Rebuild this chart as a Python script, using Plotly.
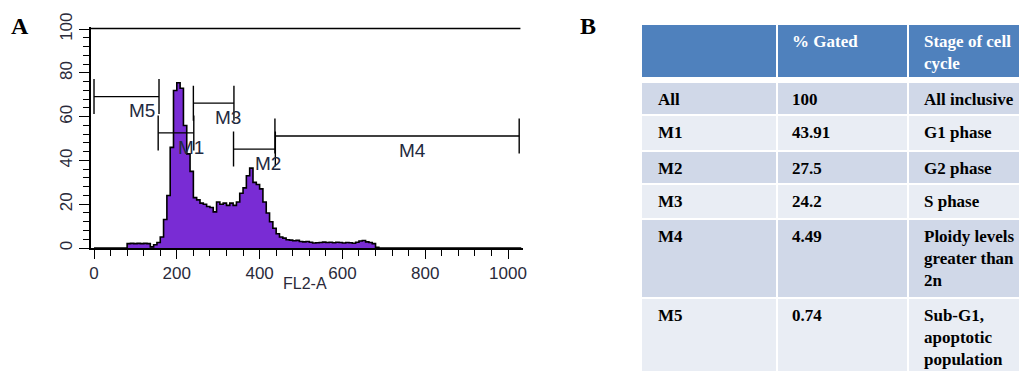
import plotly.graph_objects as go

# ---------------- data ----------------
bin_width = 8
bin_starts = list(range(0, 1032, 8))
counts = (
    [0.0] * 10 +                                             # 0..72
    [2.0, 2.1, 2.0, 2.1, 2.0, 2.1, 2.0] +                    # 80..128
    [0.5, 1.5, 2.5, 5.0, 13.0, 24.0, 46.0, 72.0, 75.5, 73.0, # 136..208
     56.0, 43.0, 35.0, 23.0, 22.0, 20.5, 20.0, 19.0, 18.5,   # 216..280
     16.5, 21.0, 20.0, 20.5, 19.5, 20.5, 19.5, 21.0, 25.0,   # 288..352
     27.5, 33.0, 36.5, 30.0, 29.0, 27.0, 21.0, 16.0, 12.0,   # 360..424
     9.0, 6.5, 5.0, 4.5, 3.8, 3.6, 3.3, 3.5, 3.0, 2.8,       # 432..504
     3.0, 2.6, 2.3, 2.4, 2.5, 2.7, 2.5, 2.6, 2.4, 2.6,       # 512..584
     2.5, 2.3, 2.5, 2.4, 2.2, 2.6, 3.2, 3.4, 2.8, 2.5, 2.0,  # 592..672
     0.3]
)
counts = counts + [0.0] * (len(bin_starts) - len(counts))

x_ticks = [0, 200, 400, 600, 800, 1000]
y_ticks = [0, 20, 40, 60, 80, 100]

gate_names = ["M5", "M1", "M3", "M2", "M4"]
gate_lo = [0, 155, 240, 337, 437]
gate_hi = [157, 241, 338, 438, 1027]
gate_y = [69.2, 52.6, 66.2, 45.2, 51.2]
gate_label_x = [115, 234, 324, 421, 769]
all_gate = (-8, 1030, 100.3)

table_header = ["", "% Gated", "Stage of cell<br>cycle"]
table_gates = ["All", "M1", "M2", "M3", "M4", "M5"]
table_pct = ["100", "43.91", "27.5", "24.2", "4.49", "0.74"]
table_stage = ["All inclusive", "G1 phase", "G2 phase", "S phase",
               "Ploidy levels<br>greater than<br>2n",
               "Sub-G1,<br>apoptotic<br>population"]

# ---------------- figure ----------------
W, H = 1027, 371
OFF = 8  # page body margin


def px(x):
    return (x - OFF) / W


def py(y):
    return (H - (y - OFF)) / H


fig = go.Figure()

xs = list(bin_starts) + [bin_starts[-1] + bin_width]
ys = counts + [counts[-1]]
fig.add_trace(go.Scatter(
    x=xs, y=ys, mode="lines", line_shape="hv",
    line=dict(color="black", width=1.6),
    fill="tozeroy", fillcolor="rgb(121,44,212)",
    hoverinfo="skip", showlegend=False, cliponaxis=False,
))

XR = [-8, 1035]
YR = [0, 101]
xdom = [px(90.7), px(522.5)]
ydom = [py(248), py(27)]

tickfont = dict(family="Liberation Sans", size=17, color="#2a2a3a")
fig.update_layout(
    width=W, height=H,
    margin=dict(l=0, r=0, t=0, b=0, pad=0, autoexpand=False),
    paper_bgcolor="white", plot_bgcolor="white",
    showlegend=False,
    xaxis=dict(domain=xdom, range=XR, showgrid=False, zeroline=False,
               automargin=False,
               showline=True, linecolor="black", linewidth=1.6,
               tickvals=x_ticks, ticks="outside", ticklen=9, tickwidth=1.3,
               tickcolor="black", tickfont=tickfont,
               minor=dict(dtick=40, tick0=0, ticks="outside", ticklen=6,
                          tickwidth=1.3, tickcolor="black", showgrid=False)),
    yaxis=dict(domain=ydom, range=YR, showgrid=False, zeroline=False,
               automargin=False,
               showline=True, linecolor="black", linewidth=1.6,
               tickvals=y_ticks, ticks="outside", ticklen=10, tickwidth=1.3,
               tickcolor="black", tickangle=-90, tickfont=tickfont,
               minor=dict(dtick=4, tick0=0, ticks="outside", ticklen=6,
                          tickwidth=1.3, tickcolor="black", showgrid=False)),
)

shapes = []
annotations = []

# "All" gate line
shapes.append(dict(type="line", xref="x", yref="y", x0=all_gate[0], x1=all_gate[1],
                   y0=all_gate[2], y1=all_gate[2], line=dict(color="black", width=1.4)))

# gates
for name, lo, hi, gy, lx in zip(gate_names, gate_lo, gate_hi, gate_y, gate_label_x):
    shapes.append(dict(type="line", xref="x", yref="y", x0=lo, x1=hi, y0=gy, y1=gy,
                       line=dict(color="black", width=1.4)))
    for xe in (lo, hi):
        shapes.append(dict(type="line", xref="x", yref="y", x0=xe, x1=xe,
                           y0=gy - 8, y1=gy + 8, line=dict(color="black", width=1.4)))
    annotations.append(dict(x=lx, y=gy - 6.5, xref="x", yref="y", text=name,
                            showarrow=False, yanchor="middle",
                            font=dict(family="Liberation Sans", size=19, color="#1f2a40")))

# x title
annotations.append(dict(x=510, y=py(283), xref="x", yref="paper",
                        text="FL2-A", showarrow=False, yanchor="middle",
                        font=dict(family="Liberation Sans", size=16, color="#2a2a3a")))

# panel letters
for letter, lx in (("A", 20), ("B", 588)):
    annotations.append(dict(x=px(lx), y=py(26), xref="paper", yref="paper",
                            text="<b>" + letter + "</b>", showarrow=False,
                            xanchor="center", yanchor="middle",
                            font=dict(family="Liberation Serif", size=24, color="black")))

# ---------------- table B ----------------
col_edges = [(642, 776), (778, 907), (909, 1024)]
row_edges = [(25, 77), (83, 114), (116, 150), (152, 183), (185, 218), (220, 297), (299, 372)]
row_colors = ["#4F81BD", "#D0D8E8", "#E9EDF4", "#D0D8E8", "#E9EDF4", "#D0D8E8", "#E9EDF4"]
pad_x = [14, 12, 13]

rows = [table_header] + [[g, p, s] for g, p, s in zip(table_gates, table_pct, table_stage)]
for ri, ((top, bot), color, row) in enumerate(zip(row_edges, row_colors, rows)):
    for ci, (left, right) in enumerate(col_edges):
        shapes.append(dict(type="rect", xref="paper", yref="paper",
                           x0=px(left), x1=px(right), y0=py(bot), y1=py(top),
                           fillcolor=color, line=dict(width=0), layer="below"))
        txt = row[ci]
        if txt:
            annotations.append(dict(
                x=px(left + pad_x[ci]), y=py(top + 5),
                xref="paper", yref="paper", xanchor="left", yanchor="top",
                align="left", showarrow=False, text="<b>" + txt + "</b>",
                font=dict(family="Liberation Serif", size=17,
                          color="white" if ri == 0 else "black")))

fig.update_layout(shapes=shapes, annotations=annotations)
fig.write_html("out.html")
